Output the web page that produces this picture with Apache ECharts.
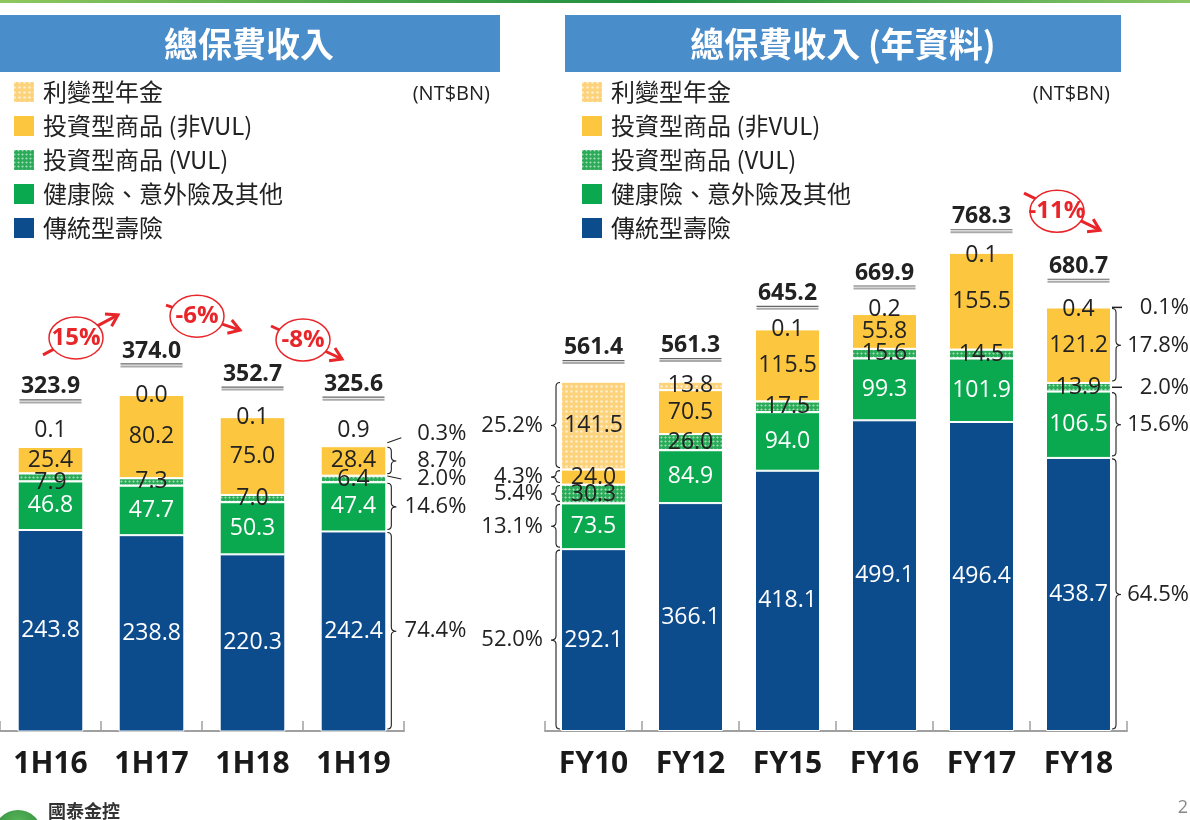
<!DOCTYPE html>
<html>
<head>
<meta charset="utf-8">
<script src="https://cdn.jsdelivr.net/npm/echarts@6/dist/echarts.min.js"></script>
<style>
html,body{margin:0;padding:0;background:#fff;}
#c{width:1190px;height:820px;}
</style>
</head>
<body>
<div id="c"></div>
<script>
// ---------- DATA ----------
const categoriesL = ['1H16', '1H17', '1H18', '1H19'];
const tradL    = [243.8, 238.8, 220.3, 242.4];
const healthL  = [46.8, 47.7, 50.3, 47.4];
const vulL     = [7.9, 7.3, 7.0, 6.4];
const nonVulL  = [25.4, 80.2, 75.0, 28.4];
const annuityL = [0.1, 0.0, 0.1, 0.9];
const totalL   = [323.9, 374.0, 352.7, 325.6];
const growthL  = ['15%', '-6%', '-8%'];
const share1H19 = ['74.4%', '14.6%', '2.0%', '8.7%', '0.3%'];

const categoriesR = ['FY10', 'FY12', 'FY15', 'FY16', 'FY17', 'FY18'];
const tradR    = [292.1, 366.1, 418.1, 499.1, 496.4, 438.7];
const healthR  = [73.5, 84.9, 94.0, 99.3, 101.9, 106.5];
const vulR     = [30.3, 26.0, 17.5, 15.6, 14.5, 13.9];
const nonVulR  = [24.0, 70.5, 115.5, 55.8, 155.5, 121.2];
const annuityR = [141.5, 13.8, 0.1, 0.2, 0.1, 0.4];
const totalR   = [561.4, 561.3, 645.2, 669.9, 768.3, 680.7];
const growthR  = ['-11%'];
const shareFY10 = ['52.0%', '13.1%', '5.4%', '4.3%', '25.2%'];
const shareFY18 = ['64.5%', '15.6%', '2.0%', '17.8%', '0.1%'];

const seriesNames = ['傳統型壽險', '健康險、意外險及其他', '投資型商品 (VUL)', '投資型商品 (非VUL)', '利變型年金'];

// ---------- STYLE / LAYOUT ----------
const FONT = '"Open Sans", "Noto Sans CJK TC", sans-serif';
const CJK = '"Noto Sans CJK TC", "Open Sans", sans-serif';
const RED = '#e8262a';
const colors = {
  trad: '#0d4c8c', health: '#0aa94f', vul: '#2aab58', nonVul: '#fcc63e', annuity: '#fcd27a'
};
const decalVul = { symbol: 'diamond', symbolSize: 0.9, color: 'rgba(255,255,255,0.55)', dashArrayX: [3, 1], dashArrayY: [3, 1] };
const decalAnn = { symbol: 'circle', symbolSize: 0.9, color: 'rgba(255,255,255,0.6)', dashArrayX: [3, 2], dashArrayY: [3, 2] };

const yMinL = 50, yMaxL = 400, yMinR = 0, yMaxR = 800;
const barRatioL = 0.65, barRatioR = 0.67;
// label offsets (px) for individual segment labels
const annOffL = [-16, 0, 0, -15];
const vulOffL = [5, 0, 0, 0];
const annOffR = [0, 0, 0, -5, 3, 2];
// gap (px) between bar top and total label
const totalGapL = [60, 44, 43, 61];
const totalGapR = [34, 36, 36, 41, 36, 41];
// growth bubble layout: [dx from midpoint px, y value, tail dx, tail dy, head dx, head dy]
const growthLayoutL = [[-25, 429, -33, 17, 42, -23], [-5, 450, -31, -11, 43, 14], [0, 427, -32, -14, 39, 19]];
const growthLayoutR = [[27, 835, -33, -18, 43, 19]];

function stackSeries(name, data, color, decal, labelColor, gi, stack, offs) {
  return {
    name, type: 'bar', stack, xAxisIndex: gi, yAxisIndex: gi,
    barCategoryGap: gi === 0 ? '35%' : '33%',
    itemStyle: Object.assign({ color, borderColor: '#fff', borderWidth: 1 }, decal ? { decal } : {}),
    label: {
      show: true, position: 'inside', color: labelColor, fontSize: 23, fontFamily: FONT,
      formatter: p => Number(p.value).toFixed(1)
    },
    emphasis: { disabled: true },
    data: data.map((v, i) => ({ value: v, label: { offset: [0, offs ? offs[i] : 0] } }))
  };
}

function totalsSeries(gi, totals, gaps) {
  return {
    type: 'custom', xAxisIndex: gi, yAxisIndex: gi, silent: true, z: 10,
    data: totals.map((v, i) => [i, v]),
    renderItem: (params, api) => {
      const c = api.coord([api.value(0), api.value(1)]);
      const x = c[0], y = c[1] - gaps[params.dataIndex];
      return { type: 'group', children: [
        { type: 'text', style: { text: api.value(1).toFixed(1), x, y, align: 'center', verticalAlign: 'middle',
          fontSize: 23, fontWeight: 'bold', fontFamily: FONT, fill: '#222' } },
        { type: 'line', shape: { x1: x - 31, y1: y + 13, x2: x + 31, y2: y + 13 }, style: { stroke: '#666', lineWidth: 1.2 } },
        { type: 'line', shape: { x1: x - 31, y1: y + 15.5, x2: x + 31, y2: y + 15.5 }, style: { stroke: '#aaa', lineWidth: 2 } }
      ]};
    }
  };
}

function growthSeries(gi, labels, layout, startIdx) {
  return {
    type: 'custom', xAxisIndex: gi, yAxisIndex: gi, silent: true, z: 11,
    data: labels.map((t, i) => [startIdx + i, layout[i][1]]),
    renderItem: (params, api) => {
      const L = layout[params.dataIndex];
      const a = api.coord([api.value(0), api.value(1)]);
      const b = api.coord([api.value(0) + 1, api.value(1)]);
      const cx = (a[0] + b[0]) / 2 + L[0], cy = a[1];
      const tx = cx + L[2], ty = cy + L[3], hx = cx + L[4], hy = cy + L[5];
      const dl = Math.hypot(hx - tx, hy - ty), dx = (hx - tx) / dl, dy = (hy - ty) / dl;
      const px = -dy, py = dx;
      return { type: 'group', children: [
        { type: 'line', shape: { x1: tx, y1: ty, x2: hx, y2: hy }, style: { stroke: RED, lineWidth: 3 } },
        { type: 'polyline', shape: { points: [[hx - 11 * dx + 7 * px, hy - 11 * dy + 7 * py], [hx, hy], [hx - 11 * dx - 7 * px, hy - 11 * dy - 7 * py]] },
          style: { stroke: RED, lineWidth: 3, fill: null } },
        { type: 'ellipse', shape: { cx, cy, rx: 27, ry: 21 }, style: { fill: '#fff', stroke: RED, lineWidth: 1.5 } },
        { type: 'text', style: { text: labels[params.dataIndex], x: cx, y: cy, align: 'center', verticalAlign: 'middle',
          fontSize: 24, fontWeight: 'bold', fontFamily: FONT, fill: RED } }
      ]};
    }
  };
}

// bracket series: segments of one bar, with kind: 'brace' | 'dash' | 'up' | 'down'
function bracketSeries(gi, catIdx, segs, texts, kinds, side, yMin, barRatio, textDx) {
  const cum = [];
  let s = 0;
  segs.forEach(v => { cum.push([s, s + v]); s += v; });
  return {
    type: 'custom', xAxisIndex: gi, yAxisIndex: gi, silent: true, z: 9,
    data: cum.map(c => [catIdx, Math.max(c[0], yMin), c[1]]),
    renderItem: (params, api) => {
      const k = kinds[params.dataIndex];
      const pLo = api.coord([api.value(0), api.value(1)]);
      const pHi = api.coord([api.value(0), api.value(2)]);
      const half = api.size([1, 0])[0] * barRatio / 2;
      const x0 = pLo[0] + side * (half + 1);
      let y1 = pHi[1] + 1, y2 = pLo[1] - 2;
      const ym = (pHi[1] + pLo[1]) / 2;
      const children = [];
      const st = { stroke: '#222', lineWidth: 1.1, fill: null };
      let ty = ym;
      if (k === 'brace') {
        const xv = x0 + side * 4, xt = x0 + side * 9;
        const r = Math.min(4, (y2 - y1) / 4);
        const d = `M${x0},${y1} Q${xv},${y1} ${xv},${y1 + r} L${xv},${ym - r} Q${xv},${ym} ${xt},${ym} Q${xv},${ym} ${xv},${ym + r} L${xv},${y2 - r} Q${xv},${y2} ${x0},${y2}`;
        children.push({ type: 'path', shape: { pathData: d }, style: st });
      } else if (k === 'dash') {
        children.push({ type: 'line', shape: { x1: x0, y1: ym, x2: x0 + side * 10, y2: ym }, style: { stroke: '#222', lineWidth: 1.5 } });
      } else if (k === 'up') {
        children.push({ type: 'line', shape: { x1: x0, y1: ym - 3, x2: x0 + side * 14, y2: ym - 8 }, style: st });
        ty = ym - 12;
      } else if (k === 'down') {
        children.push({ type: 'line', shape: { x1: x0, y1: ym - 3, x2: x0 + side * 14, y2: ym }, style: st });
      }
      children.push({ type: 'text', style: { text: texts[params.dataIndex], x: x0 + textDx, y: ty, align: 'right', verticalAlign: 'middle',
        fontSize: 22, fontFamily: FONT, fill: '#222' } });
      return { type: 'group', children };
    }
  };
}

const chart = echarts.init(document.getElementById('c'), null, { renderer: 'canvas' });

const legendBase = {
  orient: 'vertical', itemWidth: 22, itemHeight: 22, itemGap: 10, top: 80, padding: 0, selectedMode: false,
  textStyle: { fontSize: 24, lineHeight: 22, height: 22, fontFamily: CJK, color: '#222', padding: [0, 0, 0, 3] },
  data: seriesNames.slice().reverse(),
  icon: 'rect'
};

const axisX = (gi, cats) => ({
  type: 'category', gridIndex: gi, data: cats,
  axisLine: { lineStyle: { color: '#a0a0a0', width: 2 } },
  axisTick: { show: true, inside: true, length: 10, lineStyle: { color: '#a0a0a0', width: 1.5 } },
  axisLabel: { fontSize: 30, fontWeight: 'bold', color: '#1a1a1a', fontFamily: FONT, margin: 18 }
});
const axisY = (gi, min, max) => ({ type: 'value', gridIndex: gi, min, max, show: false, splitLine: { show: false } });

const option = {
  animation: false,
  backgroundColor: '#fff',
  grid: [
    { left: 0, width: 404, top: 368, bottom: 89 },
    { left: 545, width: 582, top: 233, bottom: 89 }
  ],
  xAxis: [axisX(0, categoriesL), axisX(1, categoriesR)],
  yAxis: [axisY(0, yMinL, yMaxL), axisY(1, yMinR, yMaxR)],
  legend: [
    Object.assign({}, legendBase, { left: 12 }),
    Object.assign({}, legendBase, { left: 580 })
  ],
  graphic: [
    { type: 'rect', x: 0, y: 0, shape: { width: 1190, height: 3 }, style: { fill: new echarts.graphic.LinearGradient(0, 0, 1, 0, [
      { offset: 0, color: '#8fc75e' }, { offset: 0.55, color: '#1c8d3e' }, { offset: 1, color: '#8cc667' }]) } },
    { type: 'rect', x: 0, y: 15, shape: { width: 500, height: 57 }, style: { fill: '#4a8dcb' } },
    { type: 'text', x: 0, y: 0, style: { text: '總保費收入', x: 249, y: 44, align: 'center', verticalAlign: 'middle', fontSize: 34, fontWeight: 'bold', fontFamily: CJK, fill: '#fff' } },
    { type: 'rect', x: 565, y: 15, shape: { width: 556, height: 57 }, style: { fill: '#4a8dcb' } },
    { type: 'text', x: 0, y: 0, style: { text: '總保費收入 (年資料)', x: 843, y: 44, align: 'center', verticalAlign: 'middle', fontSize: 34, fontWeight: 'bold', fontFamily: CJK, fill: '#fff' } },
    { type: 'text', style: { text: '(NT$BN)', x: 490, y: 94, align: 'right', verticalAlign: 'middle', fontSize: 20, fontFamily: FONT, fill: '#222' } },
    { type: 'text', style: { text: '(NT$BN)', x: 1110, y: 94, align: 'right', verticalAlign: 'middle', fontSize: 20, fontFamily: FONT, fill: '#222' } },
    { type: 'circle', shape: { cx: 18, cy: 834, r: 24 }, style: { fill: new echarts.graphic.RadialGradient(0.5, 0.3, 0.8, [
      { offset: 0, color: '#5cb85a' }, { offset: 1, color: '#1e7d34' }]) } },
    { type: 'text', style: { text: '國泰金控', x: 48, y: 811, verticalAlign: 'middle', fontSize: 18, fontWeight: 'bold', fontFamily: CJK, fill: '#333' } },
    { type: 'text', style: { text: '2', x: 1188, y: 808, align: 'right', verticalAlign: 'middle', fontSize: 18, fontFamily: FONT, fill: '#888' } }
  ],
  series: [
    stackSeries(seriesNames[0], tradL, colors.trad, null, '#fff', 0, 'L'),
    stackSeries(seriesNames[1], healthL, colors.health, null, '#fff', 0, 'L'),
    stackSeries(seriesNames[2], vulL, colors.vul, decalVul, '#222', 0, 'L', vulOffL),
    stackSeries(seriesNames[3], nonVulL, colors.nonVul, null, '#222', 0, 'L'),
    stackSeries(seriesNames[4], annuityL, colors.annuity, decalAnn, '#222', 0, 'L', annOffL),
    stackSeries(seriesNames[0], tradR, colors.trad, null, '#fff', 1, 'R'),
    stackSeries(seriesNames[1], healthR, colors.health, null, '#fff', 1, 'R'),
    stackSeries(seriesNames[2], vulR, colors.vul, decalVul, '#222', 1, 'R'),
    stackSeries(seriesNames[3], nonVulR, colors.nonVul, null, '#222', 1, 'R'),
    stackSeries(seriesNames[4], annuityR, colors.annuity, decalAnn, '#222', 1, 'R', annOffR),
    totalsSeries(0, totalL, totalGapL),
    totalsSeries(1, totalR, totalGapR),
    growthSeries(0, growthL, growthLayoutL, 0),
    growthSeries(1, growthR, growthLayoutR, 4),
    bracketSeries(0, 3, [tradL[3], healthL[3], vulL[3], nonVulL[3], annuityL[3]], share1H19,
      ['brace', 'brace', 'down', 'brace', 'up'], 1, yMinL, barRatioL, 79),
    bracketSeries(1, 0, [tradR[0], healthR[0], vulR[0], nonVulR[0], annuityR[0]], shareFY10,
      ['brace', 'brace', 'brace', 'brace', 'brace'], -1, yMinR, barRatioR, -17),
    bracketSeries(1, 5, [tradR[5], healthR[5], vulR[5], nonVulR[5], annuityR[5]], shareFY18,
      ['brace', 'brace', 'dash', 'brace', 'dash'], 1, yMinR, barRatioR, 77)
  ]
};
chart.setOption(option);
</script>
</body>
</html>
